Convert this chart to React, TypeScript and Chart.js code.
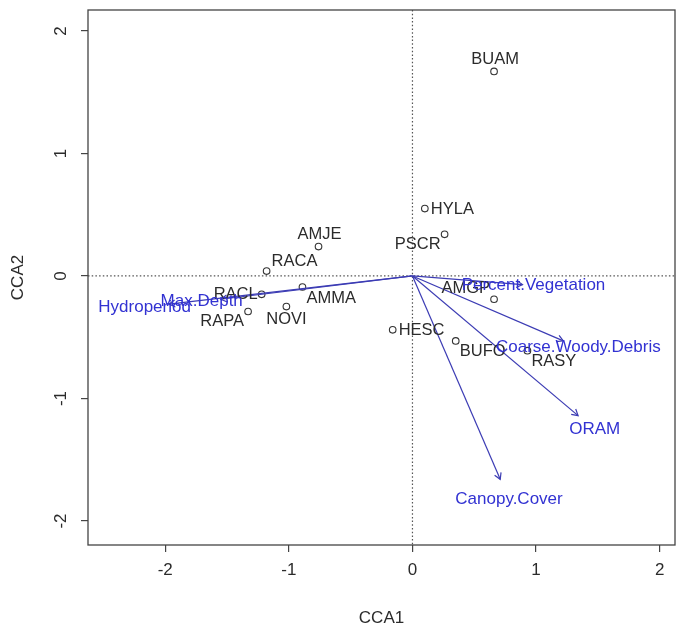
import React, { useEffect, useRef } from "react";
import { Chart, registerables } from "chart.js";

Chart.register(...registerables);

// Species scores (CCA1, CCA2)
const speciesNames = ["BUAM", "HYLA", "PSCR", "AMJE", "RACA", "RACL", "AMMA", "RAPA", "NOVI", "HESC", "AMGP", "BUFO", "RASY"];
const speciesCCA1 = [0.66, 0.10, 0.26, -0.76, -1.18, -1.22, -0.89, -1.33, -1.02, -0.16, 0.66, 0.35, 0.93];
const speciesCCA2 = [1.67, 0.55, 0.34, 0.24, 0.04, -0.15, -0.09, -0.29, -0.25, -0.44, -0.19, -0.53, -0.61];
// Which side of its point each species name sits on
const speciesLabelSide = ["N", "E", "SW", "N", "NE", "W", "SE", "SW", "S", "E", "NW", "SE", "SE"];

// Environmental biplot arrows (arrow tips)
const envNames = ["Percent.Vegetation", "Coarse.Woody.Debris", "ORAM", "Canopy.Cover", "Max.Depth", "Hydroperiod"];
const envCCA1 = [0.89, 1.22, 1.34, 0.71, -1.55, -1.97];
const envCCA2 = [-0.07, -0.53, -1.14, -1.66, -0.19, -0.23];

// Axis extents
const xLimits = [-2.625, 2.124];
const yLimits = [-2.196, 2.171];

const FONT = "'Liberation Sans', Arial, sans-serif";
const TEXT = "#2b2b2b";
const BLUE_TEXT = "#3232d2";
const BLUE_LINE = "#3c3cb4";
const AXIS = "#444444";

const sideOffsets: Record<string, [number, number, CanvasTextAlign]> = {
  N: [1, -12, "center"],
  S: [0, 13, "center"],
  E: [6, 1, "left"],
  W: [-4, 0, "right"],
  NE: [5, -10, "left"],
  NW: [-4, -11, "right"],
  SE: [4, 11, "left"],
  SW: [-4, 10, "right"],
};

const biplotPlugin = {
  id: "biplotDecor",
  beforeDraw(chart: any) {
    const { ctx, width, height } = chart;
    ctx.save();
    ctx.fillStyle = "#ffffff";
    ctx.fillRect(0, 0, width, height);
    ctx.restore();
  },
  beforeDatasetsDraw(chart: any) {
    const { ctx, chartArea: a, scales } = chart;
    const x0 = scales.x.getPixelForValue(0);
    const y0 = scales.y.getPixelForValue(0);
    ctx.save();
    ctx.strokeStyle = "#555555";
    ctx.lineWidth = 1.2;
    ctx.setLineDash([1.5, 2.2]);
    ctx.beginPath();
    ctx.moveTo(a.left, y0);
    ctx.lineTo(a.right, y0);
    ctx.moveTo(x0, a.top);
    ctx.lineTo(x0, a.bottom);
    ctx.stroke();
    ctx.restore();
  },
  afterDatasetsDraw(chart: any) {
    const { ctx, chartArea: a, scales } = chart;
    const sx = scales.x;
    const sy = scales.y;
    ctx.save();

    // arrow heads
    ctx.strokeStyle = BLUE_LINE;
    ctx.lineWidth = 1.2;
    const ox = sx.getPixelForValue(0);
    const oy = sy.getPixelForValue(0);
    envNames.forEach((_, i) => {
      const px = sx.getPixelForValue(envCCA1[i]);
      const py = sy.getPixelForValue(envCCA2[i]);
      const ang = Math.atan2(py - oy, px - ox);
      const L = 7;
      const spread = Math.PI / 6;
      ctx.beginPath();
      ctx.moveTo(px - L * Math.cos(ang - spread), py - L * Math.sin(ang - spread));
      ctx.lineTo(px, py);
      ctx.lineTo(px - L * Math.cos(ang + spread), py - L * Math.sin(ang + spread));
      ctx.stroke();
    });

    // species names
    ctx.font = `16.5px ${FONT}`;
    ctx.fillStyle = TEXT;
    ctx.textBaseline = "middle";
    speciesNames.forEach((name, i) => {
      const px = sx.getPixelForValue(speciesCCA1[i]);
      const py = sy.getPixelForValue(speciesCCA2[i]);
      const [dx, dy, align] = sideOffsets[speciesLabelSide[i]];
      ctx.textAlign = align;
      ctx.fillText(name, px + dx, py + dy);
    });

    // environmental variable names at 1.1 x arrow tip
    ctx.font = `17px ${FONT}`;
    ctx.fillStyle = BLUE_TEXT;
    ctx.textAlign = "center";
    envNames.forEach((name, i) => {
      const px = sx.getPixelForValue(envCCA1[i] * 1.1);
      const py = sy.getPixelForValue(envCCA2[i] * 1.1);
      ctx.fillText(name, px, py);
    });

    // plot frame
    ctx.strokeStyle = AXIS;
    ctx.lineWidth = 1.3;
    ctx.setLineDash([]);
    ctx.strokeRect(a.left, a.top, a.right - a.left, a.bottom - a.top);

    // vertical-axis tick labels, rotated as in base graphics
    ctx.font = `17px ${FONT}`;
    ctx.fillStyle = TEXT;
    ctx.textAlign = "center";
    ctx.textBaseline = "middle";
    sy.ticks.forEach((t: any) => {
      const py = sy.getPixelForValue(t.value);
      ctx.save();
      ctx.translate(61, py);
      ctx.rotate(-Math.PI / 2);
      ctx.fillText(String(t.value), 0, 0);
      ctx.restore();
    });

    ctx.restore();
  },
};

export default function App() {
  const canvasRef = useRef<HTMLCanvasElement | null>(null);

  useEffect(() => {
    if (!canvasRef.current) return;
    document.body.style.margin = "0";

    const speciesData = speciesNames.map((_, i) => ({ x: speciesCCA1[i], y: speciesCCA2[i] }));
    const arrowSets = envNames.map((name, i) => ({
      label: name,
      type: "line" as const,
      data: [
        { x: 0, y: 0 },
        { x: envCCA1[i], y: envCCA2[i] },
      ],
      showLine: true,
      borderColor: BLUE_LINE,
      borderWidth: 1.2,
      pointRadius: 0,
      fill: false,
      tension: 0,
    }));

    const chart = new Chart(canvasRef.current, {
      type: "scatter",
      data: {
        datasets: [
          ...arrowSets,
          {
            label: "species",
            data: speciesData,
            pointStyle: "circle",
            pointRadius: 3.3,
            pointBorderWidth: 1.1,
            pointBorderColor: "#333333",
            pointBackgroundColor: "rgba(0,0,0,0)",
            showLine: false,
          },
        ] as any,
      },
      options: {
        animation: false,
        responsive: false,
        devicePixelRatio: 1,
        layout: { autoPadding: false, padding: { top: 10, right: 2, left: 0, bottom: 0 } },
        plugins: {
          legend: { display: false },
          tooltip: { enabled: false },
        },
        scales: {
          x: {
            type: "linear",
            position: "bottom",
            min: xLimits[0],
            max: xLimits[1],
            afterFit: (s: any) => {
              s.height = 84;
              s.paddingLeft = 0;
              s.paddingRight = 0;
            },
            ticks: {
              stepSize: 1,
              includeBounds: false,
              autoSkip: false,
              maxRotation: 0,
              padding: 8,
              color: TEXT,
              font: { family: FONT, size: 17 },
            },
            grid: {
              drawOnChartArea: false,
              drawTicks: true,
              tickLength: 7,
              color: AXIS,
              tickColor: AXIS,
              lineWidth: 1.2,
            },
            border: { display: false },
            title: {
              display: true,
              text: "CCA1",
              color: TEXT,
              font: { family: FONT, size: 17 },
              padding: { top: 0, bottom: 0 },
            },
          },
          y: {
            type: "linear",
            min: yLimits[0],
            max: yLimits[1],
            afterFit: (s: any) => {
              s.width = 88;
              s.paddingTop = 0;
              s.paddingBottom = 0;
            },
            ticks: {
              stepSize: 1,
              includeBounds: false,
              display: false,
            },
            grid: {
              drawOnChartArea: false,
              drawTicks: true,
              tickLength: 7,
              color: AXIS,
              tickColor: AXIS,
              lineWidth: 1.2,
            },
            border: { display: false },
            title: {
              display: true,
              text: "CCA2",
              color: TEXT,
              font: { family: FONT, size: 17 },
              padding: { top: 8, bottom: 0 },
            },
          },
        },
      },
      plugins: [biplotPlugin],
    });

    return () => chart.destroy();
  }, []);

  return (
    <div style={{ position: "fixed", left: 0, top: 0, width: 677, height: 629 }}>
      <canvas ref={canvasRef} width={677} height={629} />
    </div>
  );
}
